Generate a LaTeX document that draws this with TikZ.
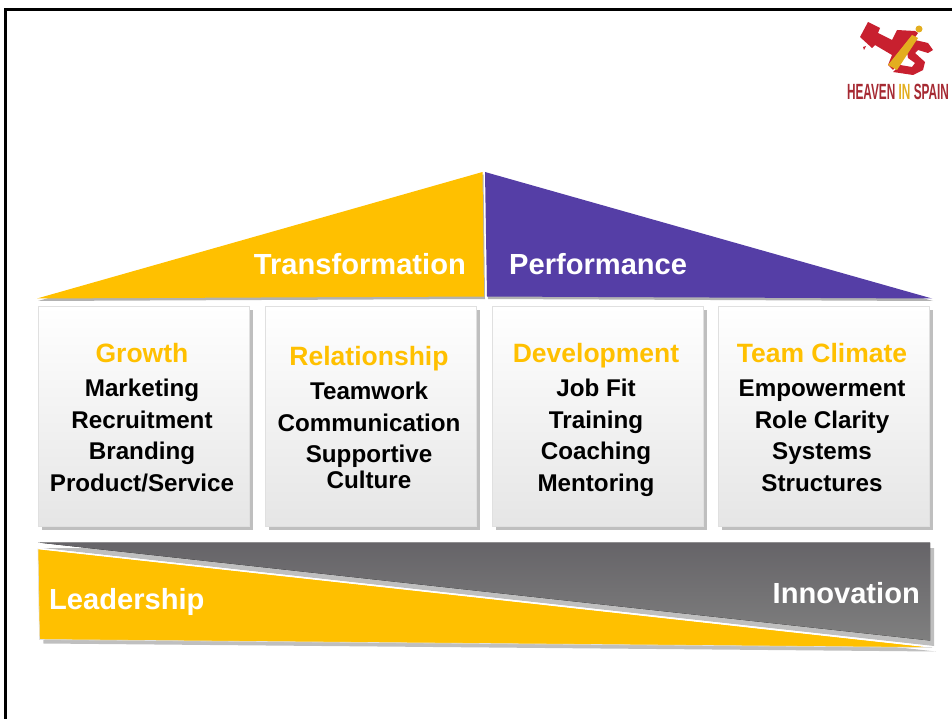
\documentclass[tikz,border=0pt]{standalone}
\usepackage{fontspec}
\setmainfont{Liberation Sans}
\usetikzlibrary{positioning, shadows}
\definecolor{amber}{HTML}{FFC000}
\definecolor{violet}{HTML}{553EA6}
\definecolor{slate}{HTML}{7F7F7F}
\definecolor{slatetop}{HTML}{666468}
\definecolor{logored}{HTML}{C8202F}
\definecolor{logotext}{HTML}{A62A33}
\definecolor{logogold}{HTML}{E3AE1F}
\newcommand{\boxtitle}[1]{{\fontsize{26.5}{31.5}\selectfont\color{amber}#1}}
\tikzset{
  softshadow/.style={drop shadow={shadow xshift=4pt, shadow yshift=-4pt, fill=black!25, opacity=1}},
  pillar/.style={draw=black!12, top color=white, bottom color=black!10, softshadow, minimum width=211pt, minimum height=220pt, inner sep=0pt, outer sep=0pt},
  pillartext/.style={anchor=north, align=center, inner sep=0pt, font=\fontsize{24.2}{31.5}\selectfont\bfseries},
  banner/.style={text=white, inner sep=0pt, font=\fontsize{29.1}{32}\selectfont\bfseries},
  roof/.style={drop shadow={shadow xshift=1pt, shadow yshift=-2.5pt, fill=black!30, opacity=1}},
  wedge/.style={drop shadow={shadow xshift=4pt, shadow yshift=-5.5pt, fill=black!25, opacity=1}},
}

\begin{document}
\begin{tikzpicture}[x=1pt, y=-1pt, node distance=16pt]
  \useasboundingbox (0,0) rectangle (952,719);
  % frame
  \draw[line width=2.8pt] (5.4,719) -- (5.4,9.6) -- (952,9.6);

  % roof
  \fill[roof, fill=amber] (37,298.5) -- (482.5,172) -- (484,296.5) -- cycle;
  \fill[roof, fill=violet] (485,172) -- (932,298.5) -- (487,296.5) -- cycle;
  \node[banner, anchor=base east] (transformation) at (466,274) {Transformation};
  \node[banner, anchor=base west] (performance) at (509,274) {Performance};

  % pillars
  \node[pillar, anchor=north west] (growth) at (38,306) {};
  \node[pillar, right=of growth] (relationship) {};
  \node[pillar, right=of relationship] (development) {};
  \node[pillar, right=15pt of development] (climate) {};
  \node[pillartext] (growthtext) at ([xshift=-1.5pt, yshift=-37.5pt]growth.north) {\boxtitle{Growth}\\[2.5pt] Marketing\\ Recruitment\\ Branding\\ Product/Service};
  \node[pillartext] (relationshiptext) at ([xshift=-1.5pt, yshift=-40.5pt]relationship.north) {\boxtitle{Relationship}\\[2.5pt] Teamwork\\ Communication\\ Supportive\\[-5.5pt] Culture};
  \node[pillartext] (developmenttext) at ([xshift=-1.5pt, yshift=-37.5pt]development.north) {\boxtitle{Development}\\[2.5pt] Job Fit\\ Training\\ Coaching\\ Mentoring};
  \node[pillartext] (climatetext) at ([xshift=-1.5pt, yshift=-37.5pt]climate.north) {\boxtitle{Team Climate}\\[2.5pt] Empowerment\\ Role Clarity\\ Systems\\ Structures};

  % base
  \fill[wedge, top color=slatetop, bottom color=slate] (38,542.5) -- (930,542.5) -- (930,640.5) -- cycle;
  \fill[softshadow, fill=amber] (38,549) -- (932,647.5) -- (39.5,639.5) -- cycle;
  \draw[white, line width=1.4pt] (38,548.5) -- (932,647);
  \draw[black!12, line width=0.6pt] (38,548.5) -- (39.5,639.5) -- (932,647.5);
  \node[banner, anchor=base west] (leadership) at (49,609) {Leadership};
  \node[banner, anchor=base east] (innovation) at (920,603) {Innovation};

  % logo
  \fill[logored] (868,22) -- (880,28) -- (878,33) -- (892,40) -- (897,30) -- (915,31) -- (918,33) -- (893,70) -- (888,65) -- (892,55) -- (875,45) -- (872,48) -- (860,37) -- cycle;
  \fill[logored] (863,47) -- (866,46) -- (864,50) -- cycle;
  \fill[logored] (915,40) -- (928,43) -- (933,50) -- (928,53) -- (918,50) -- (915,53) -- (925,62) -- (923,70) -- (913,75) -- (893,72) -- (900,65) -- (912,67) -- (915,63) -- (908,58) -- (907,52) -- cycle;
  \fill[logogold] (912,35) -- (918,38) -- (897,70) -- (888,65) -- cycle;
  \fill[logogold] (919,29) circle (3.5pt);
  \node[inner sep=0pt, anchor=base, xscale=0.537, transform shape, text=logotext, font=\fontsize{22}{24}\selectfont\bfseries] (heaven) at (898,100) {HEAVEN {\color{logogold}IN} SPAIN};
\end{tikzpicture}
\end{document}
